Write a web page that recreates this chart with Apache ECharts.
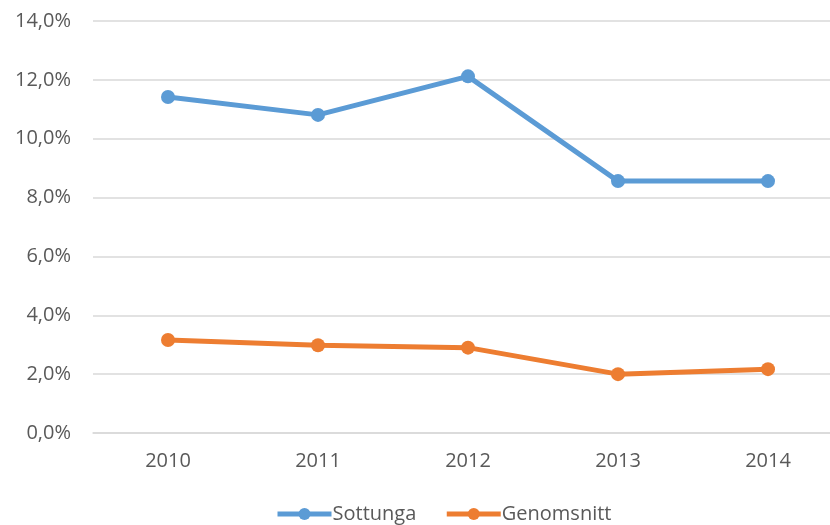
<!DOCTYPE html>
<html>
<head>
<meta charset="utf-8">
<script src="https://cdn.jsdelivr.net/npm/echarts@6/dist/echarts.min.js"></script>
<style>
  html, body { margin: 0; padding: 0; background: #fff; }
  #chart { width: 830px; height: 525px; }
</style>
</head>
<body>
<div id="chart"></div>
<script>
const years = ['2010', '2011', '2012', '2013', '2014']
const sottunga = [11.42, 10.81, 12.12, 8.56, 8.56]
const genomsnitt = [3.16, 2.98, 2.9, 2.0, 2.17]

const font = '"Open Sans", "Noto Sans", sans-serif'
const textColor = '#595959'

const chart = echarts.init(document.getElementById('chart'))

function lineSeries(name, data, color) {
  return {
    name,
    type: 'line',
    data,
    symbol: 'circle',
    symbolSize: 14,
    lineStyle: { width: 5, color },
    itemStyle: { color },
    emphasis: { disabled: true }
  }
}

chart.setOption({
  animation: false,
  textStyle: { fontFamily: font },
  legend: {
    bottom: -4,
    left: 270,
    itemWidth: 54,
    itemHeight: 15,
    itemGap: 28,
    lineStyle: { width: 5 },
    textStyle: { fontSize: 20, color: textColor, fontFamily: font, padding: [0, 0, 0, -4] },
    data: ['Sottunga', 'Genomsnitt']
  },
  grid: { left: 93, top: 21, right: -13, height: 412, outerBoundsMode: 'none' },
  xAxis: {
    type: 'category',
    data: years,
    axisLine: { lineStyle: { color: '#d9d9d9', width: 1.5 } },
    axisTick: { show: false },
    axisLabel: { fontSize: 20, color: textColor, margin: 18, fontFamily: font }
  },
  yAxis: {
    type: 'value',
    min: 0,
    max: 14,
    interval: 2,
    axisLine: { show: false },
    axisTick: { show: false },
    splitLine: { lineStyle: { color: '#d9d9d9', width: 1.5 } },
    axisLabel: {
      fontSize: 20,
      color: textColor,
      margin: 22,
      fontFamily: font,
      formatter: v => v.toFixed(1).replace('.', ',') + '%'
    }
  },
  series: [
    lineSeries('Sottunga', sottunga, '#5b9bd5'),
    lineSeries('Genomsnitt', genomsnitt, '#ed7d31')
  ]
})
</script>
</body>
</html>
